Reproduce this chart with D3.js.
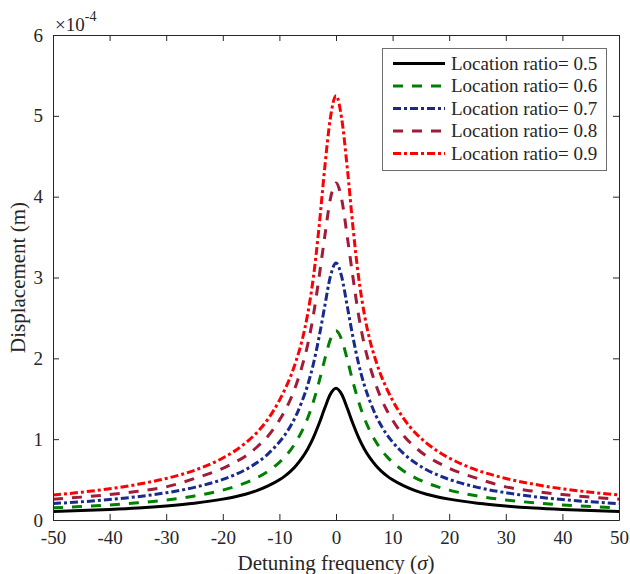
<!DOCTYPE html>
<html>
<head>
<meta charset="utf-8">
<script src="https://cdn.jsdelivr.net/npm/d3@7"></script>
<style>
  html, body { margin: 0; padding: 0; background: #fff; }
  svg text { font-family: "Liberation Serif", "Times New Roman", serif; fill: #262626; }
</style>
</head>
<body>
<svg id="chart" width="630" height="574"></svg>
<script>
// Detuning frequency sigma
const sigma = [-50,-45,-40,-35,-30,-25,-20,-18,-16,-14,-12,-10,-9,-8,-7,-6,-5,-4,-3,-2,-1,0,1,2,3,4,5,6,7,8,9,10,12,14,16,18,20,25,30,35,40,45,50];
// Displacement in units of 1e-4 m
const ratio05 = [0.104,0.116,0.130,0.148,0.173,0.207,0.258,0.285,0.319,0.363,0.421,0.497,0.546,0.605,0.678,0.768,0.879,1.019,1.190,1.382,1.555,1.63,1.555,1.382,1.190,1.019,0.879,0.768,0.678,0.605,0.546,0.497,0.421,0.363,0.319,0.285,0.258,0.207,0.173,0.148,0.130,0.116,0.104];
const ratio06 = [0.150,0.166,0.186,0.213,0.248,0.297,0.370,0.410,0.459,0.522,0.604,0.714,0.784,0.868,0.973,1.102,1.261,1.463,1.708,1.984,2.232,2.34,2.232,1.984,1.708,1.463,1.261,1.102,0.973,0.868,0.784,0.714,0.604,0.522,0.459,0.410,0.370,0.297,0.248,0.213,0.186,0.166,0.150];
const ratio07 = [0.203,0.225,0.253,0.289,0.337,0.404,0.502,0.556,0.622,0.707,0.818,0.965,1.055,1.165,1.30,1.47,1.67,1.93,2.26,2.64,3.01,3.18,3.01,2.64,2.26,1.93,1.67,1.47,1.30,1.165,1.055,0.965,0.818,0.707,0.622,0.556,0.502,0.404,0.337,0.289,0.253,0.225,0.203];
const ratio08 = [0.258,0.283,0.315,0.355,0.41,0.513,0.64,0.71,0.79,0.90,1.04,1.235,1.355,1.50,1.68,1.90,2.17,2.53,3.00,3.50,3.97,4.17,3.97,3.50,3.00,2.53,2.17,1.90,1.68,1.50,1.355,1.235,1.04,0.90,0.79,0.71,0.64,0.513,0.41,0.355,0.315,0.283,0.258];
const ratio09 = [0.309,0.344,0.386,0.442,0.514,0.615,0.767,0.849,0.952,1.08,1.25,1.48,1.62,1.78,1.98,2.22,2.55,3.00,3.62,4.35,4.97,5.25,4.97,4.35,3.62,3.00,2.55,2.22,1.98,1.78,1.62,1.48,1.25,1.08,0.952,0.849,0.767,0.615,0.514,0.442,0.386,0.344,0.309];

const seriesNames = ["Location ratio= 0.5","Location ratio= 0.6","Location ratio= 0.7","Location ratio= 0.8","Location ratio= 0.9"];
const xTicks = [-50,-40,-30,-20,-10,0,10,20,30,40,50];
const yTicks = [0,1,2,3,4,5,6];

const seriesValues = [ratio05, ratio06, ratio07, ratio08, ratio09];
const colors = ["#000000","#008000","#1a2a8c","#a01c38","#ff0000"];
const dashes = [null, "10,9", "8,3,3,3", "10,9", "8,3,3,3"];

const FONT = "'Liberation Serif', 'Times New Roman', serif";
const svg = d3.select("#chart");
const margin = {left: 53, right: 11, top: 35, bottom: 54};
const W = 630, H = 574;
const x = d3.scaleLinear().domain([-50, 50]).range([margin.left, W - margin.right]);
const y = d3.scaleLinear().domain([0, 6]).range([H - margin.bottom, margin.top]);

svg.append("defs").append("clipPath").attr("id","clip")
  .append("rect").attr("x", x(-50)).attr("y", y(6) - 2).attr("width", x(50)-x(-50)).attr("height", y(0)-y(6) + 2);

// lines
const line = d3.line().x((d,i) => x(sigma[i])).y(d => y(d)).curve(d3.curveMonotoneX);
const g = svg.append("g").attr("clip-path","url(#clip)");
seriesValues.forEach((vals, k) => {
  g.append("path").datum(vals)
    .attr("d", line)
    .attr("fill","none")
    .attr("stroke", colors[k])
    .attr("stroke-width", 3)
    .attr("stroke-dasharray", dashes[k]);
});

// axes (ticks inward, box)
const axisColor = "#262626";
const tickLen = 6;
const fmt = d => String(d);
const bottomAx = d3.axisBottom(x).tickValues(xTicks).tickSizeInner(-tickLen).tickSizeOuter(0).tickPadding(11).tickFormat(fmt);
const leftAx = d3.axisLeft(y).tickValues(yTicks).tickSizeInner(-tickLen).tickSizeOuter(0).tickPadding(10).tickFormat(fmt);
const topAx = d3.axisTop(x).tickValues(xTicks).tickSizeInner(-tickLen).tickSizeOuter(0).tickFormat("");
const rightAx = d3.axisRight(y).tickValues(yTicks).tickSizeInner(-tickLen).tickSizeOuter(0).tickFormat("");

function style(sel){
  sel.attr("font-family", FONT).attr("font-size", 19);
  sel.selectAll("path.domain").attr("stroke", axisColor).attr("stroke-width", 1);
  sel.selectAll(".tick line").attr("stroke", axisColor).attr("stroke-width", 1);
  sel.selectAll(".tick text").style("font-family", FONT).style("font-size", "19px").attr("fill", axisColor);
}
svg.append("g").attr("transform", `translate(0,${y(0)})`).call(bottomAx).call(style);
svg.append("g").attr("transform", `translate(${x(-50)},0)`).call(leftAx).call(style);
svg.append("g").attr("transform", `translate(0,${y(6)})`).call(topAx).call(style);
svg.append("g").attr("transform", `translate(${x(50)},0)`).call(rightAx).call(style);

// exponent label
const ex = svg.append("text").attr("x", 55).attr("y", 31).style("font-size", "19px");
ex.append("tspan").text("\u00d710");
ex.append("tspan").attr("dy", -10).style("font-size", "14px").text("-4");

// axis titles
const xl = svg.append("text").attr("x", x(0)).attr("y", 570).attr("text-anchor","middle").style("font-size", "21px");
xl.append("tspan").text("Detuning frequency (");
xl.append("tspan").style("font-style","italic").text("\u03c3");
xl.append("tspan").text(")");

svg.append("text").attr("transform", `translate(25,${(y(0)+y(6))/2}) rotate(-90)`)
  .attr("text-anchor","middle").style("font-size", "21px").text("Displacement (m)");

// legend
const lg = svg.append("g");
const lx = 382.5, ly = 48.5, lw = 224, lh = 122;
lg.append("rect").attr("x", lx).attr("y", ly).attr("width", lw).attr("height", lh)
  .attr("fill","#fff").attr("stroke","#6e6e6e").attr("stroke-width", 1);
seriesNames.forEach((name, k) => {
  const cy = 63.5 + k * 22.5;
  lg.append("line").attr("x1", 393).attr("x2", 445).attr("y1", cy).attr("y2", cy)
    .attr("stroke", colors[k]).attr("stroke-width", 3).attr("stroke-dasharray", dashes[k]);
  lg.append("text").attr("x", 451).attr("y", cy + 6).style("font-size", "19px").text(name);
});
</script>
</body>
</html>
